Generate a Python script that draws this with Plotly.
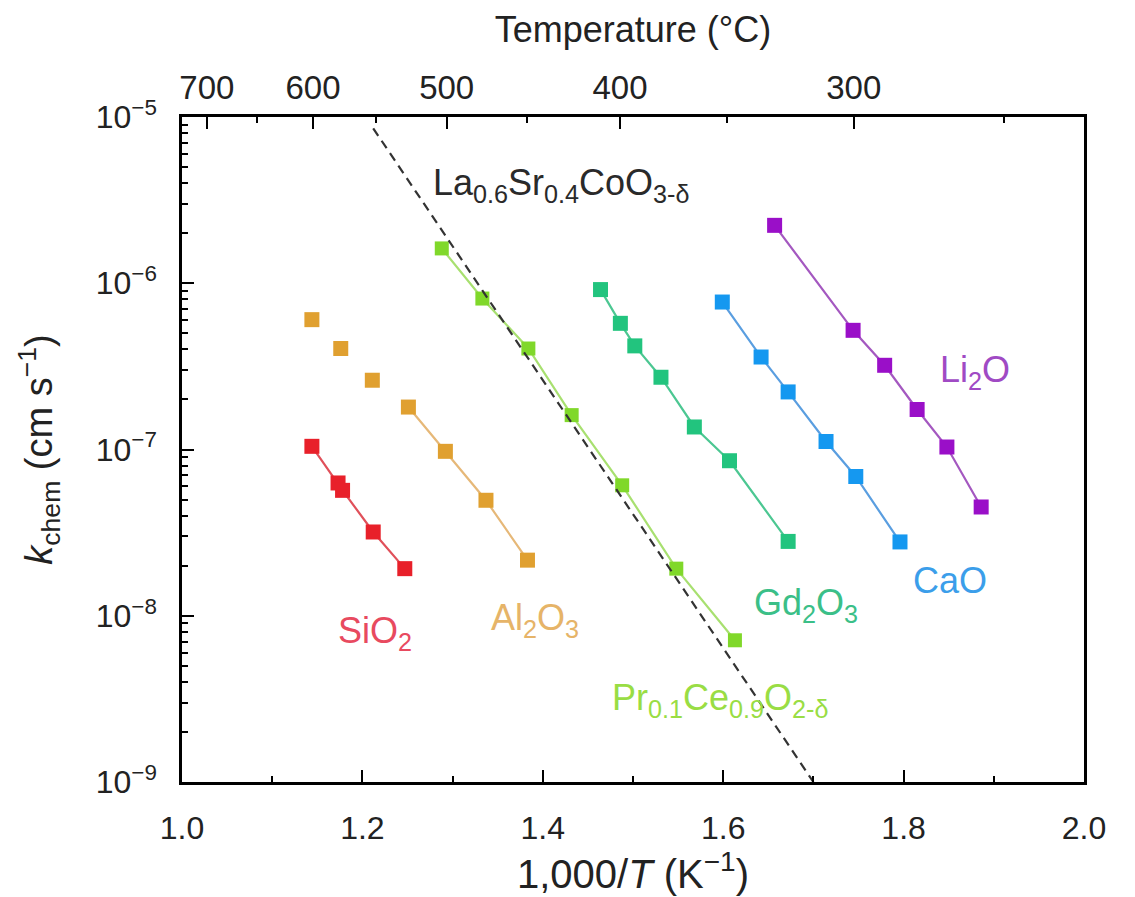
import plotly.graph_objects as go

# ---------------- data ----------------
sio2_x = [1.144, 1.173, 1.178, 1.212, 1.247]
sio2_k = [1.045e-7, 6.29e-8, 5.68e-8, 3.19e-8, 1.92e-8]

al2o3_x = [1.144, 1.176, 1.211, 1.251, 1.292, 1.337, 1.383]
al2o3_k = [6.04e-7, 4.05e-7, 2.61e-7, 1.80e-7, 9.75e-8, 4.95e-8, 2.16e-8]

prce_x = [1.288, 1.333, 1.384, 1.432, 1.488, 1.548, 1.613]
prce_k = [1.62e-6, 8.09e-7, 4.05e-7, 1.61e-7, 6.09e-8, 1.92e-8, 7.12e-9]

gd2o3_x = [1.464, 1.486, 1.502, 1.531, 1.568, 1.607, 1.672]
gd2o3_k = [9.16e-7, 5.74e-7, 4.20e-7, 2.72e-7, 1.366e-7, 8.56e-8, 2.80e-8]

cao_x = [1.599, 1.642, 1.672, 1.714, 1.747, 1.796]
cao_k = [7.71e-7, 3.60e-7, 2.22e-7, 1.117e-7, 6.88e-8, 2.78e-8]

li2o_x = [1.657, 1.744, 1.779, 1.815, 1.848, 1.886]
li2o_k = [2.23e-6, 5.21e-7, 3.21e-7, 1.74e-7, 1.035e-7, 4.51e-8]

lsc_x = [1.212, 1.700]
lsc_k = [8.55e-6, 1.0e-9]

x_ticks = [1.0, 1.2, 1.4, 1.6, 1.8, 2.0]
x_tick_labels = ["1.0", "1.2", "1.4", "1.6", "1.8", "2.0"]
temp_major = [700, 600, 500, 400, 300]
temp_minor = [650, 550, 450, 350, 250]
y_exps = [-9, -8, -7, -6, -5]

FONT = "Liberation Sans, Arial, Helvetica, sans-serif"
TICK_FS = 32
ANN_FS = 36

fig = go.Figure()


def add_series(x, k, mcolor, lcolor, msize=15, line_from=0):
    fig.add_trace(go.Scatter(x=x[line_from:], y=k[line_from:], mode="lines",
                             line=dict(color=lcolor, width=2.2),
                             showlegend=False, hoverinfo="skip"))
    fig.add_trace(go.Scatter(x=x, y=k, mode="markers",
                             marker=dict(symbol="square", size=msize, color=mcolor,
                                         line=dict(width=0)),
                             showlegend=False))


add_series(sio2_x, sio2_k, "#e8202a", "#e0505a")
add_series(al2o3_x, al2o3_k, "#e0a030", "#e6b878", line_from=3)
add_series(gd2o3_x, gd2o3_k, "#22c47e", "#4cc792")
add_series(cao_x, cao_k, "#1598f0", "#5a9ee0")
add_series(li2o_x, li2o_k, "#9a0fc8", "#a458c0")
add_series(prce_x, prce_k, "#80d82a", "#a8e070", msize=14)

fig.add_trace(go.Scatter(x=lsc_x, y=lsc_k, mode="lines",
                         line=dict(color="#333333", width=2.2, dash="9px,6px"),
                         showlegend=False, hoverinfo="skip"))

# invisible trace to anchor the top axis
fig.add_trace(go.Scatter(x=[1, 2], y=[1e-9, 1e-9], xaxis="x2", mode="markers",
                         marker=dict(opacity=0), showlegend=False, hoverinfo="skip"))

# ---------------- labels ----------------
labels = [
    ("SiO<sub>2</sub>", 1.214, -8.106, "#e84a5f"),
    ("Al<sub>2</sub>O<sub>3</sub>", 1.391, -8.027, "#e6b468"),
    ("Gd<sub>2</sub>O<sub>3</sub>", 1.692, -7.937, "#3bbf88"),
    ("CaO", 1.851, -7.787, "#3b9eea"),
    ("Li<sub>2</sub>O", 1.879, -6.536, "#a04ac4"),
    ("Pr<sub>0.1</sub>Ce<sub>0.9</sub>O<sub>2-δ</sub>", 1.597, -8.509, "#99dd44"),
    ("La<sub>0.6</sub>Sr<sub>0.4</sub>CoO<sub>3-δ</sub>", 1.421, -5.411, "#2a2a2a"),
]
for txt, lx, ly, col in labels:
    fig.add_annotation(x=lx, y=ly, xref="x", yref="y", text=txt, showarrow=False,
                       font=dict(family=FONT, size=ANN_FS, color=col),
                       xanchor="center", yanchor="middle")

temp_to_x = lambda t: 1000.0 / (t + 273.15)

y_minor_vals = [m * 10.0 ** e for e in y_exps[:-1] for m in range(2, 10)]

fig.update_layout(
    width=1135, height=897,
    margin=dict(l=182, r=51, t=117, b=115),
    paper_bgcolor="white", plot_bgcolor="white",
    font=dict(family=FONT, size=TICK_FS, color="#222222"),
    xaxis=dict(
        range=[1.0, 2.0], showgrid=False, zeroline=False, automargin=False,
        showline=True, linecolor="black", linewidth=2.5,
        ticks="inside", ticklen=12, tickwidth=2, tickcolor="black",
        tickvals=x_ticks, ticktext=x_tick_labels, ticklabelstandoff=16,
        minor=dict(tickvals=[1.1, 1.3, 1.5, 1.7, 1.9], ticks="inside",
                   ticklen=6, tickwidth=2, tickcolor="black"),
        title=dict(text="1,000/<i>T</i> (K<sup>−1</sup>)", standoff=8,
                   font=dict(size=40)),
        tickfont=dict(size=TICK_FS),
    ),
    xaxis2=dict(
        range=[1.0, 2.0], overlaying="x", side="top", anchor="y",
        showgrid=False, zeroline=False, automargin=False,
        showline=True, linecolor="black", linewidth=2.5,
        ticks="inside", ticklen=12, tickwidth=2, tickcolor="black",
        tickmode="array", ticklabelstandoff=2,
        tickvals=[temp_to_x(t) for t in temp_major],
        ticktext=[str(t) for t in temp_major],
        minor=dict(tickmode="array", tickvals=[temp_to_x(t) for t in temp_minor],
                   ticks="inside", ticklen=6, tickwidth=2, tickcolor="black"),
        title=dict(text="Temperature (°C)", standoff=16, font=dict(size=36)),
        tickfont=dict(size=33),
    ),
    yaxis=dict(
        type="log", range=[-9, -5], showgrid=False, zeroline=False, automargin=False,
        showline=True, linecolor="black", linewidth=2.5, mirror=True,
        ticks="inside", ticklen=12, tickwidth=2, tickcolor="black",
        tickmode="array", ticklabelstandoff=16,
        tickvals=[10.0 ** e for e in y_exps],
        ticktext=["10<sup>−%d</sup>" % (-e) for e in y_exps],
        minor=dict(tickmode="array", tickvals=y_minor_vals, ticks="inside",
                   ticklen=6, tickwidth=2, tickcolor="black"),
        title=dict(text="<i>k</i><sub>chem</sub> (cm s<sup>−1</sup>)", standoff=32,
                   font=dict(size=38)),
        tickfont=dict(size=TICK_FS),
    ),
)

fig.write_html("out.html")
